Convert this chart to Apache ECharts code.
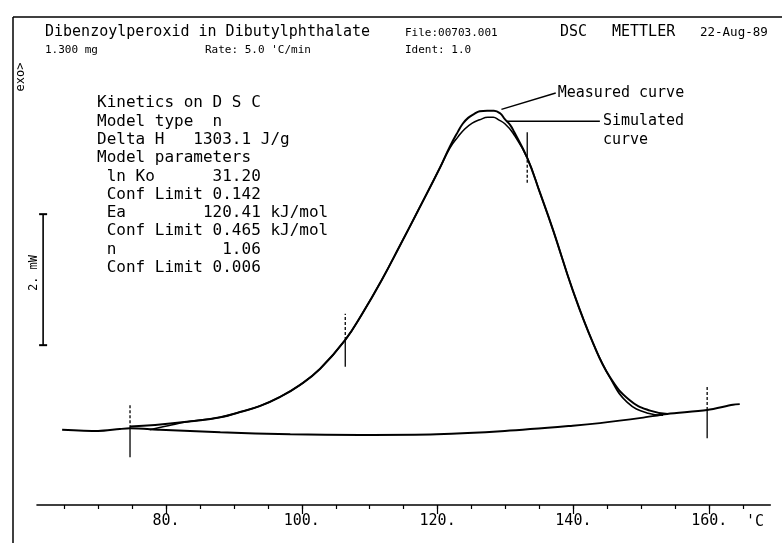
<!DOCTYPE html>
<html>
<head>
<meta charset="utf-8">
<script src="https://cdn.jsdelivr.net/npm/echarts@6/dist/echarts.min.js"></script>
<style>
  html, body { margin: 0; padding: 0; background: #fff; }
  #main { width: 782px; height: 543px; }
</style>
</head>
<body>
<div id="main"></div>
<script>
// temperatures in 'C, heat flow in mW (relative, baseline sits near 1.1 mW)
var baseT = [64.7, 70.0, 73.2, 74.7, 79.1, 88.0, 98.3, 108.6, 119.9, 129.9, 139.9, 143.9, 150.0, 153.8, 159.7, 163.5, 164.5];
var baseY = [1.15, 1.13, 1.16, 1.17, 1.15, 1.11, 1.08, 1.07, 1.08, 1.13, 1.21, 1.25, 1.33, 1.39, 1.45, 1.53, 1.54];

var measT = [74.7, 78.4, 83.1, 88.0, 90.9, 93.8, 96.8, 99.7, 102.7, 106.4, 108.9, 111.8, 114.5, 117.0, 120.4, 121.8, 123.0, 123.7, 124.5, 125.4, 126.2, 127.3, 128.3, 129.2, 129.9, 130.7, 131.3, 133.2, 135.1, 137.0, 139.9, 142.9, 145.4, 148.3, 151.3, 153.9];
var measY = [1.20, 1.22, 1.27, 1.34, 1.42, 1.51, 1.65, 1.83, 2.08, 2.52, 2.92, 3.44, 3.97, 4.47, 5.16, 5.47, 5.70, 5.82, 5.91, 5.97, 6.01, 6.02, 6.02, 5.98, 5.89, 5.80, 5.69, 5.30, 4.76, 4.20, 3.28, 2.47, 1.95, 1.60, 1.44, 1.39];

var simT = [77.6, 80.3, 83.1, 88.0, 90.9, 93.8, 96.8, 99.7, 102.7, 106.4, 108.9, 111.8, 114.5, 117.0, 120.4, 121.8, 123.0, 124.0, 125.1, 126.2, 127.4, 128.2, 129.0, 129.9, 131.1, 133.2, 135.1, 137.0, 139.9, 142.9, 145.4, 147.9, 151.0, 153.2];
var simY = [1.15, 1.21, 1.27, 1.34, 1.42, 1.51, 1.65, 1.83, 2.08, 2.52, 2.92, 3.44, 3.97, 4.47, 5.16, 5.45, 5.62, 5.74, 5.83, 5.88, 5.92, 5.92, 5.88, 5.82, 5.68, 5.30, 4.76, 4.20, 3.28, 2.47, 1.94, 1.57, 1.40, 1.37];

// evaluation limit markers: [temperature, low, crossing, high, dashed half]
var markers = [
    [74.7, 0.73, 1.17, 1.53, 'upper'],
    [106.4, 2.11, 2.52, 2.92, 'upper'],
    [133.2, 4.92, 5.30, 5.69, 'lower'],
    [159.7, 1.02, 1.45, 1.83, 'upper']
];

// 2 mW scale bar
var scaleT = 61.9;
var scaleY = [2.44, 4.44];

var minorTicks = [65, 70, 75, 80, 85, 90, 95, 100, 105, 110, 115, 120, 125, 130, 135, 140, 145, 150, 155, 160, 165];
var majorTicks = [80, 100, 120, 140, 160];

var infoLines = [
    'Kinetics on D S C',
    'Model type  n',
    'Delta H   1303.1 J/g',
    'Model parameters',
    ' ln Ko      31.20',
    ' Conf Limit 0.142',
    ' Ea        120.41 kJ/mol',
    ' Conf Limit 0.465 kJ/mol',
    ' n           1.06',
    ' Conf Limit 0.006'
];

var mono = 'DejaVu Sans Mono';

function zip(xs, ys) {
    var out = [];
    for (var i = 0; i < xs.length; i++) {
        out.push([xs[i], ys[i]]);
    }
    return out;
}

var series = [
    {
        name: 'baseline', type: 'line', showSymbol: false, symbol: 'none', smooth: 0.3,
        data: zip(baseT, baseY),
        lineStyle: {color: '#000', width: 2}
    },
    {
        name: 'Measured curve', type: 'line', showSymbol: false, symbol: 'none', smooth: 0.45,
        data: zip(measT, measY),
        lineStyle: {color: '#000', width: 2}
    },
    {
        name: 'Simulated curve', type: 'line', showSymbol: false, symbol: 'none', smooth: 0.45,
        data: zip(simT, simY),
        lineStyle: {color: '#000', width: 1.6}
    },
    {
        name: 'scale', type: 'line', symbol: 'rect', symbolSize: [8, 2], showSymbol: true,
        data: [[scaleT, scaleY[0]], [scaleT, scaleY[1]]],
        itemStyle: {color: '#000'},
        lineStyle: {color: '#000', width: 1.6}
    },
    {
        name: 'lead1', type: 'line', symbol: 'none',
        data: [[129.4, 6.04], [137.4, 6.29]],
        lineStyle: {color: '#000', width: 1.5},
        endLabel: {
            show: true, formatter: 'Measured curve', distance: 2,
            fontFamily: mono, fontSize: 15, color: '#000'
        }
    },
    {
        name: 'lead2', type: 'line', symbol: 'none',
        data: [[130.2, 5.86], [143.9, 5.86]],
        lineStyle: {color: '#000', width: 1.5},
        endLabel: {
            show: true, formatter: 'Simulated\ncurve', distance: 3, offset: [0, 9],
            fontFamily: mono, fontSize: 15, lineHeight: 19, color: '#000'
        }
    }
];

markers.forEach(function (m) {
    var upperDashed = m[4] === 'upper';
    series.push({
        type: 'line', symbol: 'none',
        data: [[m[0], m[1]], [m[0], m[2]]],
        lineStyle: {color: '#000', width: 1.3, type: upperDashed ? 'solid' : [3, 2]}
    });
    series.push({
        type: 'line', symbol: 'none',
        data: [[m[0], m[2]], [m[0], m[3]]],
        lineStyle: {color: '#000', width: 1.3, type: upperDashed ? [3, 2] : 'solid'}
    });
});

var chart = echarts.init(document.getElementById('main'));

chart.setOption({
    animation: false,
    backgroundColor: '#fff',
    grid: {left: 37, right: 11.7, top: 17, bottom: 38},
    xAxis: [
        {
            type: 'value', min: 61, max: 169, position: 'bottom',
            axisLine: {show: true, lineStyle: {color: '#000', width: 1.6}},
            axisTick: {show: true, customValues: minorTicks, length: 4, lineStyle: {color: '#000', width: 1.2}},
            axisLabel: {show: false},
            splitLine: {show: false}
        },
        {
            type: 'value', min: 61, max: 169, position: 'bottom',
            axisLine: {show: false},
            axisTick: {show: true, customValues: majorTicks, length: 9, lineStyle: {color: '#000', width: 1.2}},
            axisLabel: {
                show: true, customValues: majorTicks, margin: 9,
                fontFamily: mono, fontSize: 15, color: '#000',
                formatter: function (v) { return v + '.'; }
            },
            splitLine: {show: false}
        }
    ],
    yAxis: {
        type: 'value', min: 0, max: 7.45, show: false
    },
    series: series,
    graphic: [
        {type: 'line', shape: {x1: 13, y1: 17, x2: 782, y2: 17}, style: {stroke: '#000', lineWidth: 1.5}},
        {type: 'line', shape: {x1: 13, y1: 17, x2: 13, y2: 543}, style: {stroke: '#000', lineWidth: 1.5}},
        {type: 'text', x: 45, y: 32, style: {text: 'Dibenzoylperoxid in Dibutylphthalate', font: '15px ' + mono, fill: '#000', verticalAlign: 'middle'}},
        {type: 'text', x: 405, y: 33, style: {text: 'File:00703.001', font: '11px ' + mono, fill: '#000', verticalAlign: 'middle'}},
        {type: 'text', x: 560, y: 32, style: {text: 'DSC', font: '15px ' + mono, fill: '#000', verticalAlign: 'middle'}},
        {type: 'text', x: 612, y: 32, style: {text: 'METTLER', font: '15px ' + mono, fill: '#000', verticalAlign: 'middle'}},
        {type: 'text', x: 700, y: 33, style: {text: '22-Aug-89', font: '12.5px ' + mono, fill: '#000', verticalAlign: 'middle'}},
        {type: 'text', x: 45, y: 50, style: {text: '1.300 mg', font: '11px ' + mono, fill: '#000', verticalAlign: 'middle'}},
        {type: 'text', x: 205, y: 50, style: {text: "Rate: 5.0 'C/min", font: '11px ' + mono, fill: '#000', verticalAlign: 'middle'}},
        {type: 'text', x: 405, y: 50, style: {text: 'Ident: 1.0', font: '11px ' + mono, fill: '#000', verticalAlign: 'middle'}},
        {type: 'text', x: 21, y: 77, rotation: Math.PI / 2, style: {text: 'exo>', font: '12px ' + mono, fill: '#000', align: 'center', verticalAlign: 'middle'}},
        {type: 'text', x: 34, y: 273, rotation: Math.PI / 2, style: {text: '2. mW', font: '12px ' + mono, fill: '#000', align: 'center', verticalAlign: 'middle'}},
        {type: 'text', x: 746, y: 522, style: {text: "'C", font: '15px ' + mono, fill: '#000', verticalAlign: 'middle'}},
        {type: 'text', x: 97, y: 94, style: {text: infoLines.join('\n'), font: '16px ' + mono, lineHeight: 18.3, fill: '#000', verticalAlign: 'top'}}
    ]
});
</script>
</body>
</html>
